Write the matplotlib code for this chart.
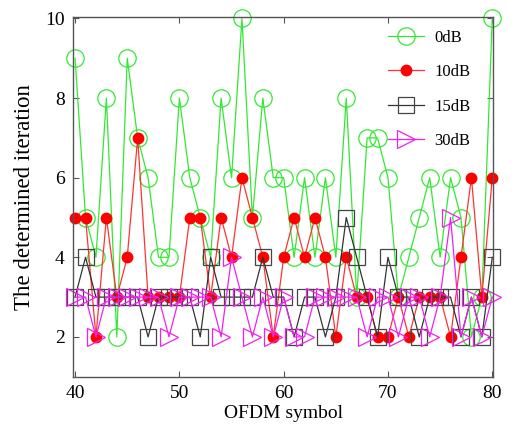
import matplotlib
matplotlib.use("Agg")
import matplotlib.pyplot as plt

plt.rcParams['font.family'] = ['Liberation Serif', 'DejaVu Serif']

# OFDM symbol index
symbols = list(range(40, 81))

# determined iteration count per SNR
iter_0db = [9, 5, 4, 8, 2, 9, 7, 6, 4, 4,
            8, 6, 5, 4, 8, 6, 10, 5, 8, 6,
            6, 4, 6, 4, 6, 4, 8, 3, 7, 7,
            6, 3, 4, 5, 6, 4, 6, 5, 2, 3, 10]
iter_10db = [5, 5, 2, 5, 3, 4, 7, 3, 3, 3,
             3, 5, 5, 3, 5, 4, 6, 5, 4, 2,
             4, 5, 4, 5, 4, 2, 4, 3, 3, 2,
             2, 3, 2, 3, 3, 3, 2, 4, 6, 3, 6]
iter_15db = [3, 4, 3, 3, 3, 3, 3, 2, 3, 3,
             3, 3, 2, 4, 3, 3, 3, 3, 4, 3,
             3, 2, 3, 3, 2, 3, 5, 4, 3, 2,
             4, 3, 3, 2, 3, 3, 3, 2, 3, 2, 4]
iter_30db = [3, 3, 2, 3, 3, 3, 3, 3, 3, 2,
             3, 3, 3, 3, 2, 4, 3, 2, 3, 2,
             3, 2, 2, 3, 3, 3, 3, 3, 2, 3,
             3, 2, 3, 3, 2, 3, 5, 2, 3, 2, 3]

fig = plt.figure(figsize=(5.2, 4.26), dpi=100)
ax = fig.add_axes([0.1404, 0.1157, 0.8083, 0.8437])

ax.plot(symbols, iter_0db, color='#33e833', lw=0.9, marker='o', ms=12.5,
        mfc='none', mec='#33e833', mew=0.9, label='0dB', clip_on=False)
ax.plot(symbols, iter_10db, color='#ff3333', lw=0.9, marker='o', ms=7.5,
        mfc='#ff0000', mec='#ff0000', label='10dB', clip_on=False)
ax.plot(symbols, iter_15db, color='#333333', lw=0.9, marker='s', ms=11.5,
        mfc='none', mec='#444444', mew=0.9, label='15dB', clip_on=False)
ax.plot(symbols, iter_30db, color='#ee22ee', lw=0.9, marker='>', ms=13,
        mfc='none', mec='#ee22ee', mew=0.9, label='30dB', clip_on=False)

ax.set_xlim(39.8, 80.1)
ax.set_ylim(1.0, 10.03)
ax.set_xticks([40, 50, 60, 70, 80])
ax.set_yticks([2, 4, 6, 8, 10])
ax.tick_params(direction='in', length=4, width=0.8, color='#555555',
               top=True, right=True, labelsize=14, pad=6)
for sp in ax.spines.values():
    sp.set_color('#555555')
    sp.set_linewidth(1.0)

ax.set_xlabel('OFDM symbol', fontsize=14, labelpad=2)
ax.set_ylabel('The determined iteration', fontsize=16.5, labelpad=7)

ax.legend(loc='upper left', bbox_to_anchor=(0.749, 0.965), frameon=False,
          fontsize=12, labelspacing=1.1, handlelength=2.2,
          handletextpad=0.6, borderpad=0, borderaxespad=0)

fig.savefig('out.png', dpi=100)
